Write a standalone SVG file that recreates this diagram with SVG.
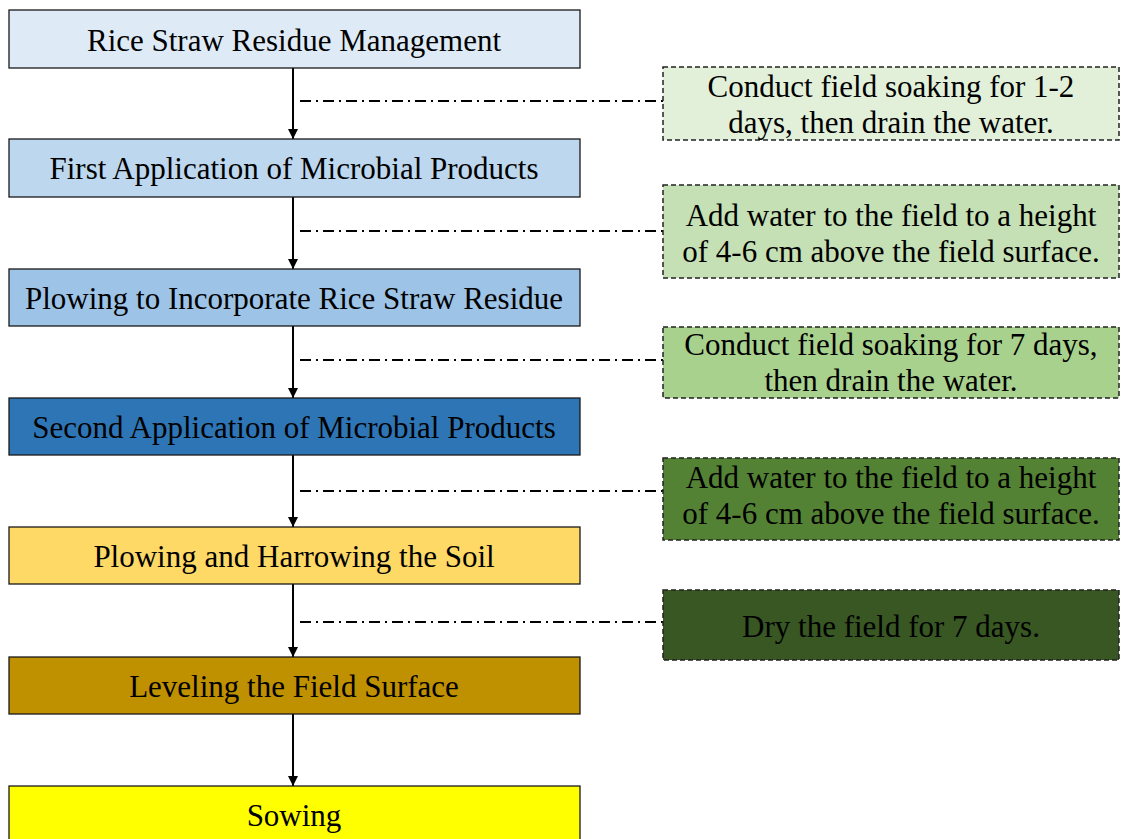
<svg xmlns="http://www.w3.org/2000/svg" width="1121" height="839" viewBox="0 0 1121 839">
<style>
.step{stroke:#1a1a1a;stroke-width:1.3}
.note{stroke:#222;stroke-width:1.5;stroke-dasharray:5 3}
.t{font-family:"Liberation Serif","Times New Roman",serif;font-size:31px;fill:#000;text-anchor:middle;dominant-baseline:central}
.arrow{stroke:#000;stroke-width:2;fill:none;marker-end:url(#ah)}
.dd{stroke:#000;stroke-width:2;fill:none;stroke-dasharray:11 5 2 5}
</style>
<defs>
<marker id="ah" viewBox="0 0 10 10" refX="10" refY="5" markerWidth="12" markerHeight="10" orient="auto" markerUnits="userSpaceOnUse">
<path d="M0,0 L10,5 L0,10 z" fill="#000"/>
</marker>
</defs>
<rect width="1121" height="839" fill="#fff"/>
<g id="connectors">
<line class="arrow" x1="293" y1="68" x2="293" y2="139"/>
<line class="arrow" x1="293" y1="197" x2="293" y2="269"/>
<line class="arrow" x1="293" y1="326" x2="293" y2="398"/>
<line class="arrow" x1="293" y1="455" x2="293" y2="527"/>
<line class="arrow" x1="293" y1="584" x2="293" y2="657"/>
<line class="arrow" x1="293" y1="714" x2="293" y2="786"/>
<line class="dd" x1="300" y1="101" x2="663" y2="101"/>
<line class="dd" x1="300" y1="231" x2="663" y2="231"/>
<line class="dd" x1="300" y1="360" x2="663" y2="360"/>
<line class="dd" x1="300" y1="491" x2="663" y2="491"/>
<line class="dd" x1="300" y1="622" x2="663" y2="622"/>
</g>
<g id="n1"><rect class="step" x="9" y="10" width="571" height="58" fill="#DEEBF7"/><text class="t" x="294" y="40">Rice Straw Residue Management</text></g>
<g id="n2"><rect class="step" x="9" y="139" width="571" height="58" fill="#BDD7EE"/><text class="t" x="294" y="168">First Application of Microbial Products</text></g>
<g id="n3"><rect class="step" x="9" y="269" width="571" height="57" fill="#9DC3E6"/><text class="t" x="294" y="298">Plowing to Incorporate Rice Straw Residue</text></g>
<g id="n4"><rect class="step" x="9" y="398" width="571" height="57" fill="#2E75B6"/><text class="t" x="294" y="427">Second Application of Microbial Products</text></g>
<g id="n5"><rect class="step" x="9" y="527" width="571" height="57" fill="#FFD966"/><text class="t" x="294" y="556">Plowing and Harrowing the Soil</text></g>
<g id="n6"><rect class="step" x="9" y="657" width="571" height="57" fill="#BF9000"/><text class="t" x="294" y="686">Leveling the Field Surface</text></g>
<g id="n7"><rect class="step" x="9" y="786" width="571" height="60" fill="#FFFF00"/><text class="t" x="294" y="815">Sowing</text></g>
<g id="r1"><rect class="note" x="663" y="67" width="456" height="73" fill="#E2F0D9"/><text class="t" x="891" y="86">Conduct field soaking for 1-2</text><text class="t" x="891" y="122">days, then drain the water.</text></g>
<g id="r2"><rect class="note" x="663" y="185" width="456" height="93" fill="#C5E0B4"/><text class="t" x="891" y="215">Add water to the field to a height</text><text class="t" x="891" y="251">of 4-6 cm above the field surface.</text></g>
<g id="r3"><rect class="note" x="663" y="327" width="456" height="71" fill="#A9D18E"/><text class="t" x="891" y="344">Conduct field soaking for 7 days,</text><text class="t" x="891" y="380">then drain the water.</text></g>
<g id="r4"><rect class="note" x="663" y="458" width="456" height="82" fill="#548235"/><text class="t" x="891" y="477">Add water to the field to a height</text><text class="t" x="891" y="513">of 4-6 cm above the field surface.</text></g>
<g id="r5"><rect class="note" x="663" y="590" width="456" height="70" fill="#385723"/><text class="t" x="891" y="626">Dry the field for 7 days.</text></g>
</svg>
